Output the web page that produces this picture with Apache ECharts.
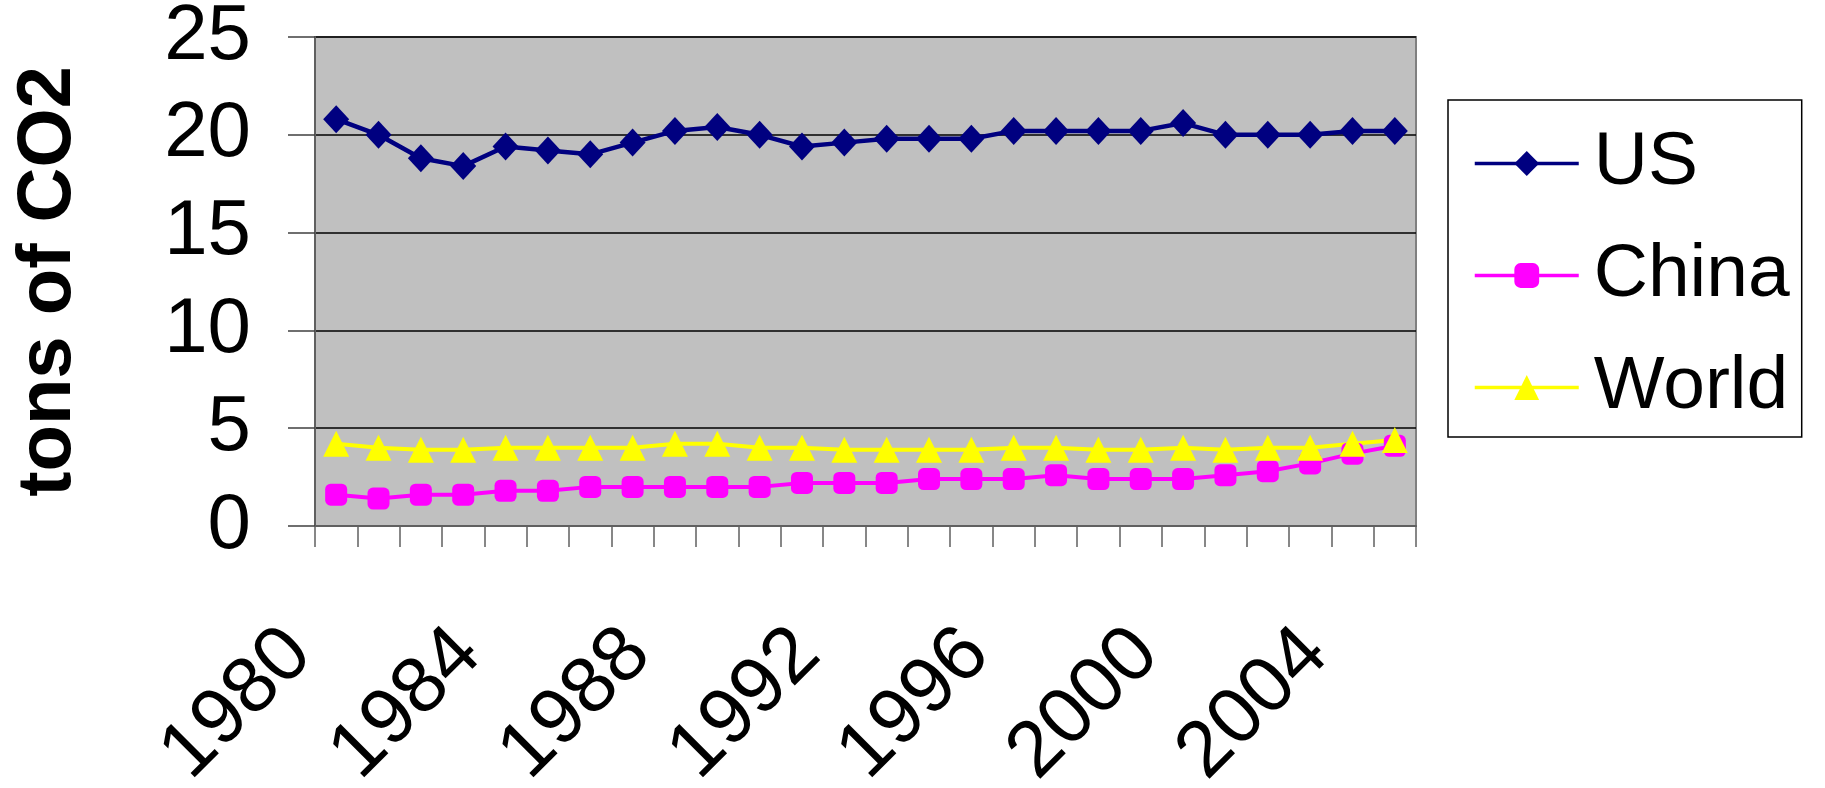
<!DOCTYPE html>
<html>
<head>
<meta charset="utf-8">
<script src="https://cdn.jsdelivr.net/npm/echarts@6/dist/echarts.min.js"></script>
<style>
  html, body { margin: 0; padding: 0; background: #ffffff; }
  #chart { width: 1825px; height: 788px; }
</style>
</head>
<body>
<div id="chart"></div>
<script>
// Per-capita CO2 emissions, tons per person per year
const years = ['1980','1981','1982','1983','1984','1985','1986','1987','1988','1989',
               '1990','1991','1992','1993','1994','1995','1996','1997','1998','1999',
               '2000','2001','2002','2003','2004','2005'];
const usValues = [20.8, 20.0, 18.8, 18.4, 19.4, 19.2, 19.0, 19.6, 20.2, 20.4,
                  20.0, 19.4, 19.6, 19.8, 19.8, 19.8, 20.2, 20.2, 20.2, 20.2,
                  20.6, 20.0, 20.0, 20.0, 20.2, 20.2];
const chinaValues = [1.6, 1.4, 1.6, 1.6, 1.8, 1.8, 2.0, 2.0, 2.0, 2.0,
                     2.0, 2.2, 2.2, 2.2, 2.4, 2.4, 2.4, 2.6, 2.4, 2.4,
                     2.4, 2.6, 2.8, 3.2, 3.7, 4.1];
const worldValues = [4.2, 4.0, 3.9, 3.9, 4.0, 4.0, 4.0, 4.0, 4.2, 4.2,
                     4.0, 4.0, 3.9, 3.9, 3.9, 3.9, 4.0, 4.0, 3.9, 3.9,
                     4.0, 3.9, 4.0, 4.0, 4.2, 4.4];
const yMin = 0, yMax = 25, yStep = 5;
const yTitle = 'tons of CO2';

const FONT = '"Liberation Sans", Arial, sans-serif';
const chart = echarts.init(document.getElementById('chart'), null, { renderer: 'canvas' });

chart.setOption({
  animation: false,
  backgroundColor: '#ffffff',
  textStyle: { fontFamily: FONT },
  grid: {
    left: 315, right: 409, top: 37, bottom: 262,
    outerBoundsMode: 'none',
    containLabel: false,
    show: true, backgroundColor: '#c0c0c0', borderColor: '#808080', borderWidth: 2
  },
  legend: {
    orient: 'vertical',
    left: 1448, top: 100,
    padding: [26, 12, 12, 25],
    itemWidth: 104, itemHeight: 31, itemGap: 37,
    backgroundColor: '#ffffff',
    borderColor: '#000000', borderWidth: 1.5,
    lineStyle: { width: 3.5 },
    textStyle: { fontFamily: FONT, fontSize: 75, color: '#000000', padding: [0, 0, 0, 10] },
    data: ['US', 'China', 'World']
  },
  xAxis: {
    type: 'category',
    data: years,
    boundaryGap: true,
    axisLine: { lineStyle: { color: '#606060', width: 2 } },
    axisTick: { show: true, interval: 0, length: 21, lineStyle: { color: '#606060', width: 1.5 } },
    axisLabel: {
      interval: 3, rotate: 45, margin: 79,
      fontFamily: FONT, fontSize: 79, color: '#000000',
      padding: [0, 52, 0, 0]
    },
    splitLine: { show: false }
  },
  yAxis: {
    type: 'value',
    min: yMin, max: yMax, interval: yStep,
    name: yTitle,
    nameLocation: 'middle', nameRotate: 90, nameGap: 228,
    nameTextStyle: { fontFamily: FONT, fontSize: 76, fontWeight: 'bold', color: '#000000' },
    axisLine: { show: true, lineStyle: { color: '#606060', width: 2 } },
    axisTick: { show: true, length: 27, lineStyle: { color: '#404040', width: 1.5 } },
    axisLabel: { margin: 64, fontFamily: FONT, fontSize: 78, color: '#000000' },
    splitLine: { show: true, lineStyle: { color: '#000000', width: 1.5 } }
  },
  series: [
    {
      name: 'US', type: 'line', data: usValues,
      symbol: 'diamond', symbolSize: [26, 28],
      lineStyle: { color: '#000080', width: 4.5 },
      itemStyle: { color: '#000080' }
    },
    {
      name: 'China', type: 'line', data: chinaValues,
      symbol: 'roundRect', symbolSize: 22,
      lineStyle: { color: '#ff00ff', width: 4 },
      itemStyle: { color: '#ff00ff' }
    },
    {
      name: 'World', type: 'line', data: worldValues,
      symbol: 'triangle', symbolSize: [26, 26],
      lineStyle: { color: '#ffff00', width: 4 },
      itemStyle: { color: '#ffff00' }
    }
  ]
});
</script>
</body>
</html>
